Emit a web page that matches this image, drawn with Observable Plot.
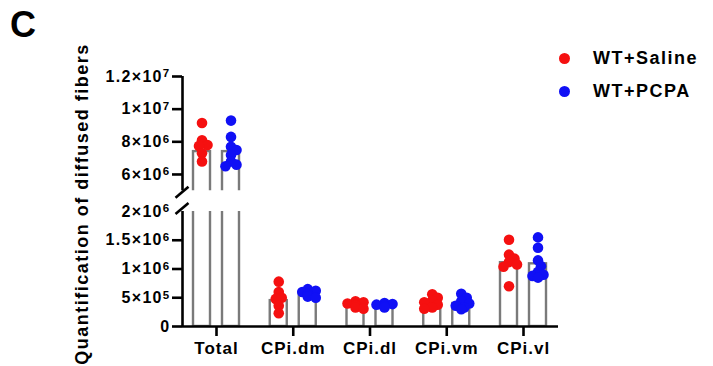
<!DOCTYPE html>
<html>
<head>
<meta charset="utf-8">
<script src="https://cdn.jsdelivr.net/npm/d3@7"></script>
<script src="https://cdn.jsdelivr.net/npm/@observablehq/plot@0.6"></script>
<style>
  html, body { margin: 0; padding: 0; background: white; }
  #wrap { position: relative; width: 713px; height: 366px; overflow: hidden; font-family: "Liberation Sans", Arial, sans-serif; font-weight: bold; color: black; }
  #wrap svg { position: absolute; left: 0; top: 0; }
  #wrap g[aria-label="y-axis tick label"] text { letter-spacing: 1.3px; }
  #wrap g[aria-label="x-axis tick label"] text { letter-spacing: 1px; }
  .panel { position: absolute; font-weight: bold; }
  #ttl { left: 10px; top: 4px; font-size: 36px; }
  #ylab { left: 82px; top: 204px; transform: translate(-50%, -50%) rotate(-90deg); font-size: 18px; letter-spacing: 1.5px; white-space: nowrap; }
  .leg { position: absolute; left: 559px; display: flex; align-items: center; font-size: 18px; letter-spacing: 1.5px; white-space: nowrap; }
  .leg span.sw { display: inline-block; width: 11px; height: 11px; border-radius: 50%; margin-right: 23px; }
</style>
</head>
<body>
<div id="wrap">
  <div id="lower"></div>
  <div id="upper"></div>
  <div class="panel" id="ttl">C</div>
  <div class="panel" id="ylab">Quantification of diffused fibers</div>
  <div class="leg" id="leg0" style="top:48px"><span class="sw"></span><span class="lt"></span></div>
  <div class="leg" id="leg1" style="top:81px"><span class="sw"></span><span class="lt"></span></div>
</div>
<script>
// ---------------- data ----------------
const categories = ["Total", "CPi.dm", "CPi.dl", "CPi.vm", "CPi.vl"];
const groups = ["WT+Saline", "WT+PCPA"];
const groupColors = ["#f51010", "#1010f5"];

const salineMean = [7.4e6, 0.45e6, 0.37e6, 0.42e6, 1.11e6];
const pcpaMean   = [7.4e6, 0.55e6, 0.36e6, 0.40e6, 1.09e6];

const salineValues = [
  [9.15e6, 8.1e6, 7.8e6, 7.75e6, 7.3e6, 6.8e6],
  [0.78e6, 0.60e6, 0.50e6, 0.48e6, 0.36e6, 0.23e6],
  [0.44e6, 0.42e6, 0.40e6, 0.38e6, 0.36e6, 0.33e6, 0.31e6],
  [0.56e6, 0.50e6, 0.45e6, 0.42e6, 0.38e6, 0.33e6, 0.31e6],
  [1.51e6, 1.25e6, 1.18e6, 1.12e6, 1.08e6, 1.04e6, 0.70e6]
];
const pcpaValues = [
  [9.3e6, 8.3e6, 7.7e6, 7.5e6, 7.2e6, 6.8e6, 6.6e6, 6.5e6],
  [0.65e6, 0.62e6, 0.60e6, 0.57e6, 0.55e6, 0.52e6, 0.50e6],
  [0.41e6, 0.39e6, 0.38e6, 0.36e6, 0.35e6, 0.33e6],
  [0.57e6, 0.50e6, 0.44e6, 0.40e6, 0.36e6, 0.33e6, 0.30e6],
  [1.55e6, 1.37e6, 1.15e6, 1.05e6, 0.95e6, 0.90e6, 0.88e6, 0.85e6]
];

const upperTicks = [6e6, 8e6, 1e7, 1.2e7];
const lowerTicks = [0, 5e5, 1e6, 1.5e6];
const breakTicks = [2e6];

// ---------------- layout ----------------
const W = 713, H = 366;
const xLeft = 182, xRight = 558;
const xDomain = [-0.443, 4.456];
const upper = {top: 76, bottom: 190.3, domain: [5e6, 1.2e7], height: 200};
const lower = {top: 211, bottom: 326, domain: [0, 2e6], height: H};
const pxPerX = (xRight - xLeft) / (xDomain[1] - xDomain[0]);
const groupOffsetPx = 14.5, barHalfPx = 8.5, dotR = 5.3;
const barStroke = "#7a7a7a";
const axisW = 2.6;

function yPx(v) {
  if (v >= upper.domain[0]) return upper.top + (upper.domain[1] - v) / (upper.domain[1] - upper.domain[0]) * (upper.bottom - upper.top);
  return lower.top + (lower.domain[1] - v) / (lower.domain[1] - lower.domain[0]) * (lower.bottom - lower.top);
}

// deterministic beeswarm offsets in pixels
function swarm(values) {
  const order = values.map((v, i) => ({v, i})).sort((a, b) => b.v - a.v);
  const out = new Array(values.length);
  const placed = [];
  const cands = [0, 3, -3, 5.5, -5.5, 8, -8];
  for (const {v, i} of order) {
    const py = yPx(v);
    let c0 = 0;
    for (const c of cands) {
      if (placed.every(p => Math.hypot(p.x - c, p.y - py) >= 6)) { c0 = c; break; }
    }
    out[i] = c0;
    placed.push({x: c0, y: py});
  }
  return out;
}

const bars = [];
const points = [];
categories.forEach((cat, ci) => {
  [salineMean, pcpaMean].forEach((means, gi) => {
    const xc = ci + (gi === 0 ? -1 : 1) * groupOffsetPx / pxPerX;
    bars.push({cat, group: groups[gi], x1: xc - barHalfPx / pxPerX, x2: xc + barHalfPx / pxPerX, mean: means[ci]});
    const vals = (gi === 0 ? salineValues : pcpaValues)[ci];
    const offs = swarm(vals);
    vals.forEach((v, k) => points.push({cat, group: groups[gi], x: xc + offs[k] / pxPerX, value: v}));
  });
});

const sup = {5: "\u2075", 6: "\u2076", 7: "\u2077"};
const unsup = {"\u2075": "5", "\u2076": "6", "\u2077": "7"};
function fmt(v) {
  if (v === 0) return "0";
  const e = Math.floor(Math.log10(v) + 1e-9);
  const m = Math.round(v / Math.pow(10, e) * 10) / 10;
  return `${m}\u00d710${sup[e]}`;
}

const fontFamily = '"Liberation Sans", Arial, sans-serif';
const color = {domain: groups, range: groupColors};
const tickFont = 16;

const barMark = () => Plot.rectY(bars, {x1: "x1", x2: "x2", y1: 0, y2: "mean", fill: "white", stroke: barStroke, strokeWidth: 2.4, clip: true});

// ---------------- lower panel ----------------
const lowerPlot = Plot.plot({
  width: W, height: lower.height,
  marginTop: lower.top, marginBottom: H - lower.bottom, marginLeft: xLeft, marginRight: W - xRight,
  x: {domain: xDomain},
  y: {domain: lower.domain},
  color,
  style: {fontFamily, background: "white", overflow: "visible"},
  marks: [
    barMark(),
    Plot.dot(points.filter(d => d.value < lower.domain[1]), {x: "x", y: "value", r: dotR, fill: "group", stroke: null}),
    Plot.ruleY([0], {stroke: "black", strokeWidth: axisW}),
    Plot.ruleX([xDomain[0]], {stroke: "black", strokeWidth: axisW}),
    Plot.axisY({ticks: lowerTicks, tickFormat: fmt, tickSize: 10, tickPadding: 2, fontSize: tickFont, fontWeight: "bold", strokeWidth: axisW, label: null}),
    Plot.axisY({ticks: breakTicks, tickFormat: fmt, tickSize: 0, tickPadding: 12, fontSize: tickFont, fontWeight: "bold", label: null}),
    Plot.axisX({ticks: [0, 1, 2, 3, 4], tickFormat: i => categories[i], tickSize: 10, tickPadding: 5, fontSize: 17, fontWeight: "bold", strokeWidth: axisW, label: null})
  ]
});

// ---------------- upper panel ----------------
const upperPlot = Plot.plot({
  width: W, height: upper.height,
  marginTop: upper.top, marginBottom: upper.height - upper.bottom, marginLeft: xLeft, marginRight: W - xRight,
  x: {domain: xDomain, axis: null},
  y: {domain: upper.domain},
  color,
  style: {fontFamily, background: "transparent", overflow: "visible"},
  marks: [
    barMark(),
    Plot.dot(points.filter(d => d.value >= upper.domain[0]), {x: "x", y: "value", r: dotR, fill: "group", stroke: null}),
    Plot.ruleX([xDomain[0]], {stroke: "black", strokeWidth: axisW}),
    Plot.axisY({ticks: upperTicks, tickFormat: fmt, tickSize: 10, tickPadding: 2, fontSize: tickFont, fontWeight: "bold", strokeWidth: axisW, label: null})
  ]
});

document.getElementById("lower").appendChild(lowerPlot);
document.getElementById("upper").appendChild(upperPlot);

// real superscripts for the exponent
d3.selectAll('#wrap g[aria-label="y-axis tick label"] text').each(function () {
  const t = this.textContent;
  const last = t.slice(-1);
  if (!(last in unsup)) return;
  const sel = d3.select(this);
  sel.text(null);
  sel.append("tspan").text(t.slice(0, -1));
  sel.append("tspan").attr("dy", "-0.38em").attr("font-size", "11.5px").text(unsup[last]);
});

// axis-break slashes, placed with the panels' own scales
function slash(plot, yValue, dy) {
  const sx = plot.scale("x").apply(xDomain[0]);
  const sy = plot.scale("y").apply(yValue) + dy;
  d3.select(plot).append("line")
    .attr("x1", sx - 6.5).attr("y1", sy + 5.5)
    .attr("x2", sx + 6.5).attr("y2", sy - 5.5)
    .attr("stroke", "black").attr("stroke-width", axisW);
}
slash(upperPlot, upper.domain[0], 2);
slash(lowerPlot, lower.domain[1], -2.5);

// legend
groups.forEach((g, i) => {
  const el = document.getElementById("leg" + i);
  el.querySelector(".sw").style.background = groupColors[i];
  el.querySelector(".lt").textContent = g;
});
</script>
</body>
</html>
